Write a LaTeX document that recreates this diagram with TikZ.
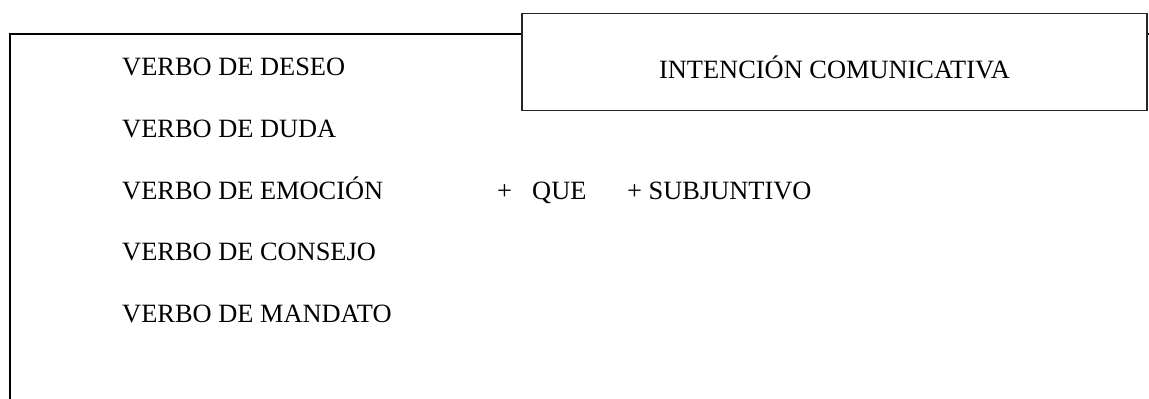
\documentclass[tikz,border=0pt]{standalone}
\usepackage{fontspec}
\setmainfont{Liberation Serif}
\usetikzlibrary{positioning}

\begin{document}
\begin{tikzpicture}
[x=1pt,y=-1pt,
  frameDecorate/.style={line width=2pt,line cap=rect},
  boxDecorate/.style={draw=black!85,line width=1.3pt,fill=white,inner sep=0pt},
  textDecorate/.style={inner sep=0pt,anchor=base west,font=\fontsize{26.4}{30}\selectfont}]
\useasboundingbox (0,0) rectangle (1149,399);
%% outer frame
\draw[frameDecorate] (10,405) -- (10,33.5) -- (1152,33.5);
%% heading box
\node (intencion) at (834.5,62) [boxDecorate,minimum width=625pt,minimum height=97pt] {};
\node (titulo) at (834.5,78) [textDecorate,anchor=base] {INTENCIÓN COMUNICATIVA};
%% verbs
\foreach \nodename/\y/\label in {
  deseo/75/VERBO DE DESEO,
  duda/137/VERBO DE DUDA,
  emocion/199/VERBO DE EMOCIÓN,
  consejo/260.5/VERBO DE CONSEJO,
  mandato/322/VERBO DE MANDATO}
{
  \node (\nodename) at (122,\y) [textDecorate] {\label};
}
%% structure
\node (mas) at (497,199) [textDecorate] {+};
\node (que) at (532,199) [textDecorate] {QUE};
\node (subjuntivo) at (627,199) [textDecorate] {+ SUBJUNTIVO};
\end{tikzpicture}
\end{document}
